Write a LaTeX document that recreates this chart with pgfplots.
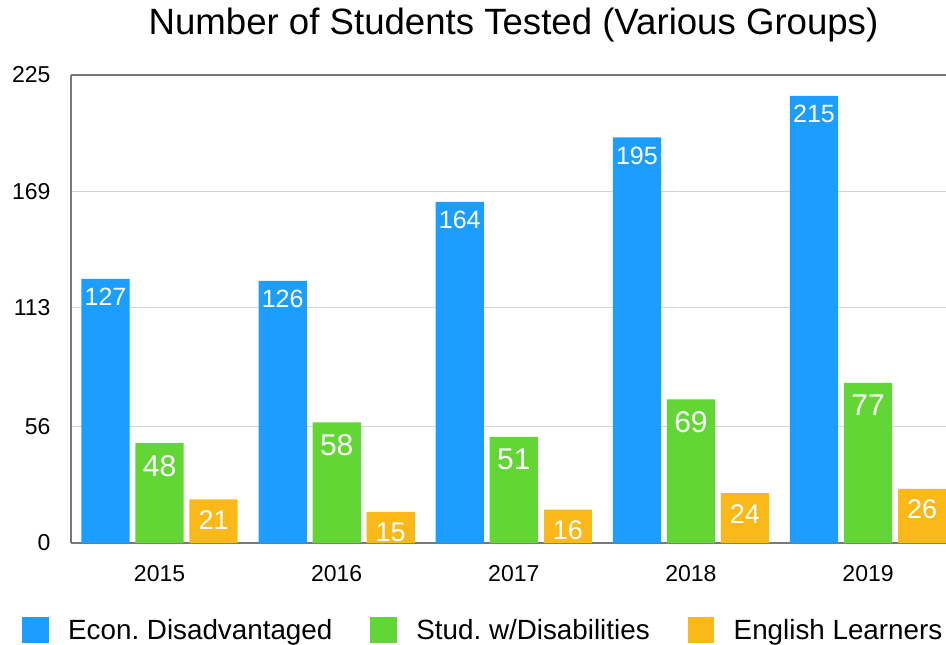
\documentclass[border=0pt]{standalone}
\usepackage{pgfplots}
\pgfplotsset{compat=1.18}
\usepackage{fontspec}
\setmainfont{Liberation Sans}
\frenchspacing

\definecolor{cblue}{RGB}{27,158,255}
\definecolor{cgreen}{RGB}{97,214,52}
\definecolor{corange}{RGB}{250,185,24}
\definecolor{axgray}{RGB}{120,120,120}
\definecolor{gridgray}{RGB}{212,212,212}

\begin{document}
\begin{tikzpicture}
\begin{axis}[
    at={(0,0)}, anchor=south west,
    scale only axis,
    width=875bp, height=468bp,
    xmin=-0.5, xmax=4.44,
    ymin=0, ymax=225,
    ytick={0,56,113,169,225},
    xtick={0,1,2,3,4},
    xticklabels={2015,2016,2017,2018,2019},
    major tick length=0pt,
    axis x line*=bottom, axis y line*=left,
    axis line style={axgray, line width=1.2bp},
    ymajorgrids,
    grid style={gridgray, line width=1bp},
    extra y ticks={225},
    extra y tick labels={},
    extra y tick style={grid style={axgray, line width=1.2bp}},
    tick label style={font=\fontsize{23bp}{26bp}\selectfont, black},
    /pgf/number format/assume math mode=true,
    yticklabel style={anchor=east, xshift=-17bp},
    xticklabel style={anchor=north, yshift=-19bp},
    title={Number of Students Tested (Various Groups)},
    title style={font=\fontsize{36.6bp}{40bp}\selectfont, at={(0.5,1)}, anchor=base, yshift=35bp, xshift=5bp, inner sep=0pt},
    ybar, bar width=0.272,
    legend columns=3,
    legend style={draw=none, at={(0.47,0)}, anchor=center, yshift=-87bp,
        font=\fontsize{27.8bp}{30bp}\selectfont,
        nodes={inner sep=0pt},
        /tikz/every even column/.append style={column sep=38bp}},
    legend image code/.code={\fill (0bp,-13bp) rectangle (26.5bp,13bp); \path (46bp,0bp);},
]
\addplot[draw=none, fill=cblue, bar shift=-0.305,
    nodes near coords,
    nodes near coords style={text=white, anchor=north, inner sep=0pt, yshift=-9bp,
        font=\fontsize{25bp}{28bp}\selectfont}]
    coordinates {(0,127) (1,126) (2,164) (3,195) (4,215)};
\addplot[draw=none, fill=cgreen, bar shift=0,
    nodes near coords,
    nodes near coords style={text=white, anchor=north, inner sep=0pt, yshift=-12bp,
        font=\fontsize{30bp}{33bp}\selectfont}]
    coordinates {(0,48) (1,58) (2,51) (3,69) (4,77)};
\addplot[draw=none, fill=corange, bar shift=0.305,
    nodes near coords,
    nodes near coords style={text=white, anchor=north, inner sep=0pt, yshift=-11bp,
        font=\fontsize{27bp}{30bp}\selectfont}]
    coordinates {(0,21) (1,15) (2,16) (3,24) (4,26)};
\legend{Econ. Disadvantaged, Stud. w/Disabilities, English Learners}
\end{axis}
\pgfresetboundingbox
\path (-71bp,-102bp) rectangle (875bp,543bp);
\end{tikzpicture}
\end{document}
